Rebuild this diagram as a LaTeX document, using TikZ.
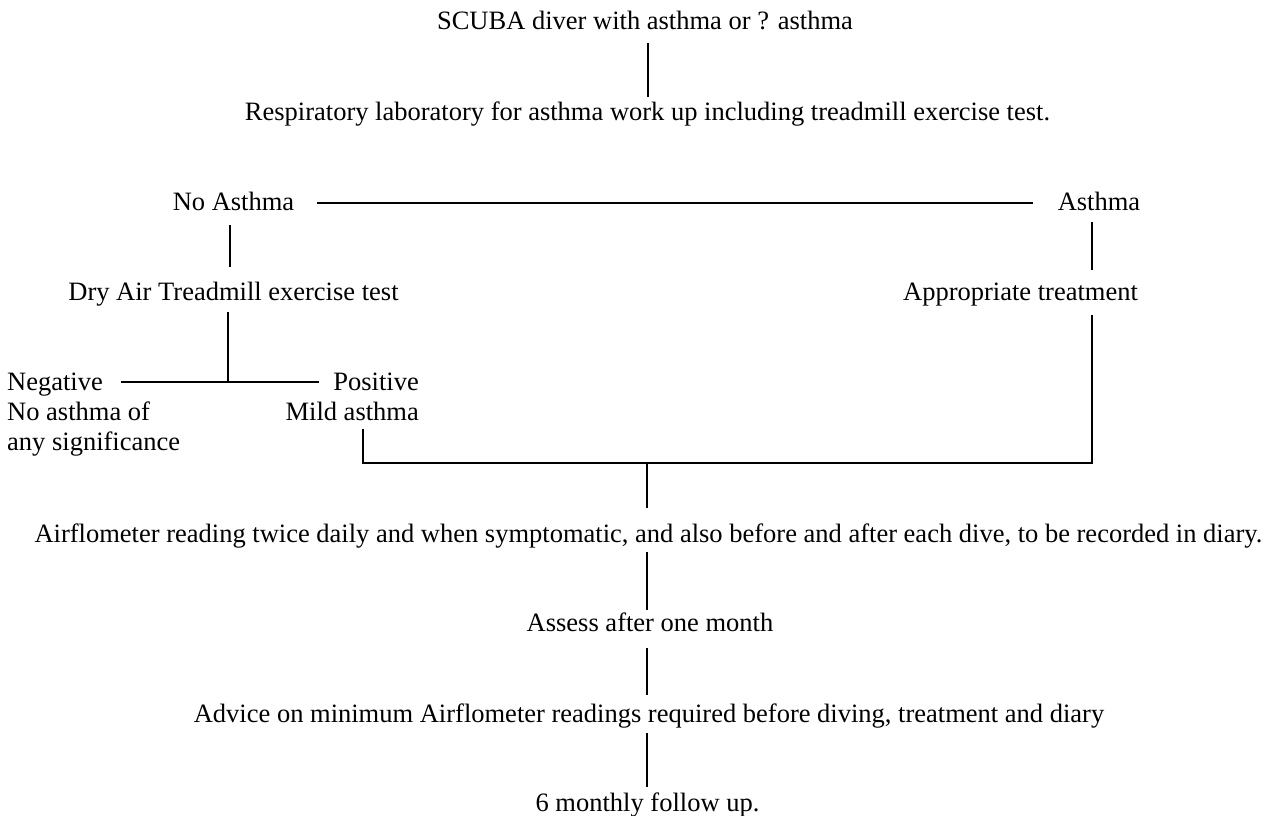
\documentclass[tikz,border=0pt]{standalone}
\usepackage{fontspec}
\setmainfont{Liberation Serif}
\begin{document}
\begin{tikzpicture}[x=1pt,y=-1pt,
  txt/.style={inner sep=0pt,anchor=base,font=\fontsize{26.5}{30}\selectfont},
  conn/.style={line width=2.2pt}]
\useasboundingbox (0,0) rectangle (1278,816);
\node[txt] (scuba) at (645,30) {SCUBA diver with asthma or ? asthma};
\node[txt] (resp) at (647.5,121) {Respiratory laboratory for asthma work up including treadmill exercise test.};
\node[txt] (noa) at (233.5,210) {No Asthma};
\node[txt] (asth) at (1099,210) {Asthma};
\node[txt] (dry) at (233.5,300) {Dry Air Treadmill exercise test};
\node[txt] (appr) at (1020.5,300) {Appropriate treatment};
% base anchor of a multi-line node is the baseline of its last line
\node[txt,anchor=base west,align=left] (neg) at (7,450) {Negative\\No asthma of\\any significance};
\node[txt,anchor=base east,align=right] (pos) at (419,420) {Positive\\Mild asthma};
\node[txt] (airf) at (648.5,542) {Airflometer reading twice daily and when symptomatic, and also before and after each dive, to be recorded in diary.};
\node[txt] (assess) at (650,631) {Assess after one month};
\node[txt] (adv) at (649,722) {Advice on minimum Airflometer readings required before diving, treatment and diary};
\node[txt] (six) at (647.5,811) {6 monthly follow up.};
% connector end points
\coordinate (a1) at (648,43);  \coordinate (a2) at (648,97);
\coordinate (h1) at (317,203); \coordinate (h2) at (1033,203);
\coordinate (b1) at (230,225); \coordinate (b2) at (230,267);
\coordinate (r1) at (1092,222); \coordinate (r2) at (1092,270);
\coordinate (d1) at (228,312); \coordinate (d2) at (228,382);
\coordinate (n1) at (121,382); \coordinate (p1) at (319,382);
\coordinate (m1) at (363,429); \coordinate (m2) at (363,463);
\coordinate (t1) at (1092,315); \coordinate (t2) at (1092,463);
\coordinate (j1) at (647,463); \coordinate (j2) at (647,508);
\coordinate (k1) at (647,552); \coordinate (k2) at (647,610);
\coordinate (l1) at (647,648); \coordinate (l2) at (647,695);
\coordinate (q1) at (647,733); \coordinate (q2) at (647,787);
\draw[conn] (a1) -- (a2);
\draw[conn] (h1) -- (h2);
\draw[conn] (b1) -- (b2);
\draw[conn] (r1) -- (r2);
\draw[conn] (d1) -- (d2);
\draw[conn] (n1) -- (p1);
\draw[conn] (m1) -- (m2) -- (t2) -- (t1);
\draw[conn] (j1) -- (j2);
\draw[conn] (k1) -- (k2);
\draw[conn] (l1) -- (l2);
\draw[conn] (q1) -- (q2);
\end{tikzpicture}
\end{document}
